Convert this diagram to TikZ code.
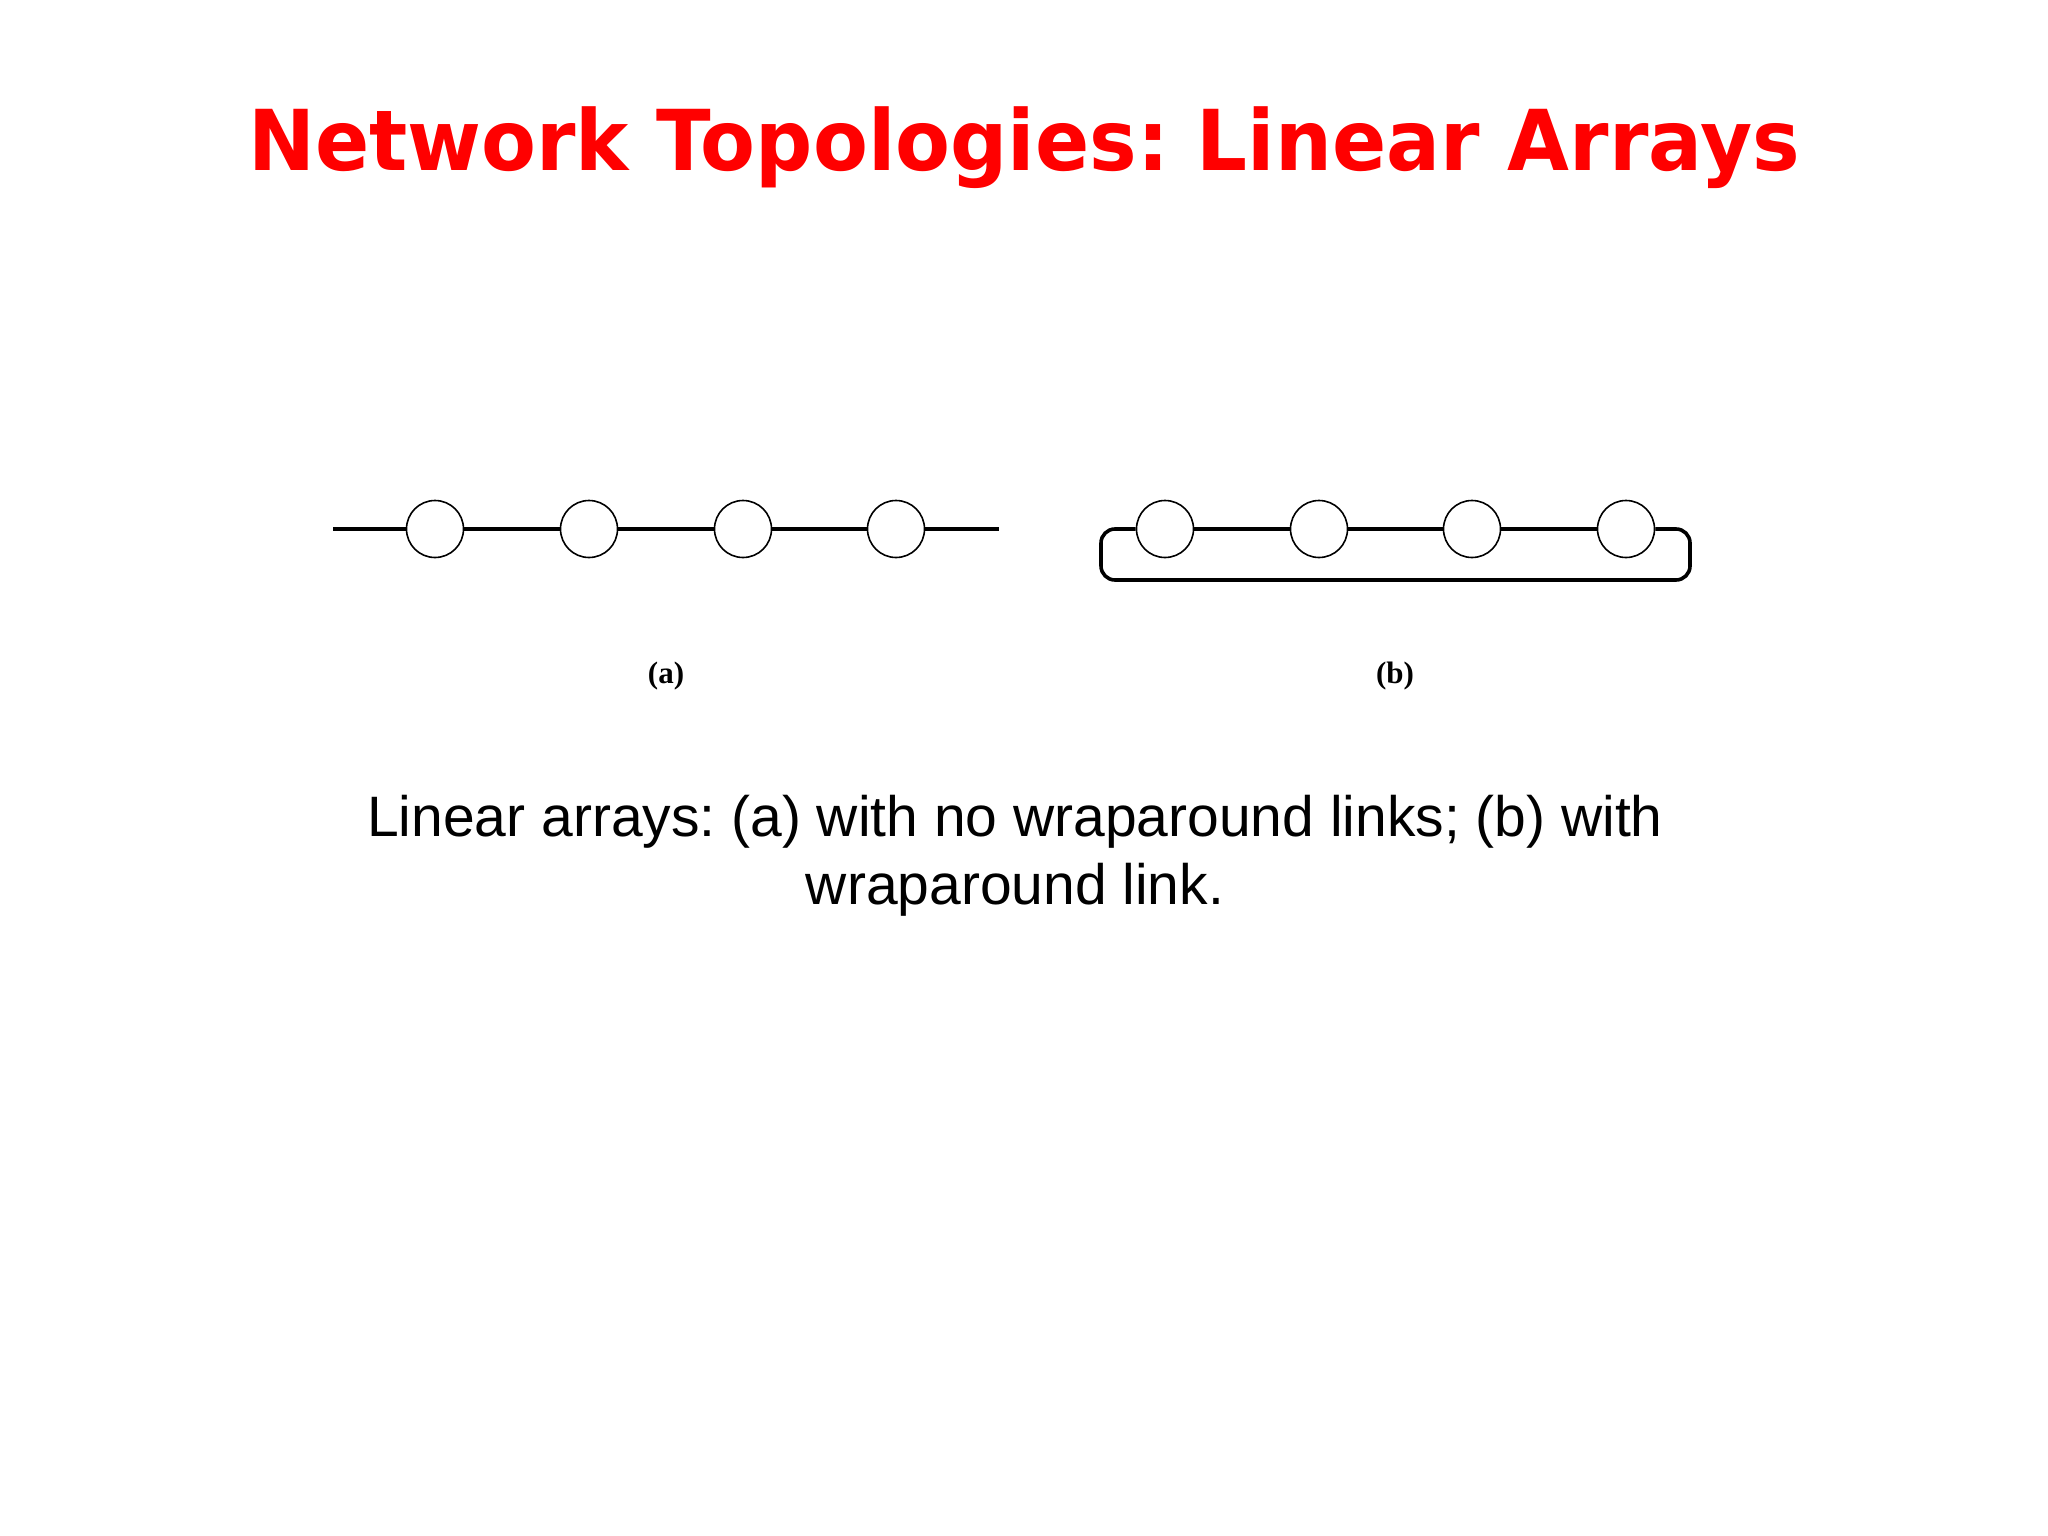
\documentclass[tikz,border=0pt]{standalone}
\usepackage{fontspec}
\setmainfont{Liberation Sans}
\newfontfamily\titlefont{DejaVu Sans}
\newfontfamily\capfont{Liberation Serif}
\usetikzlibrary{calc}
\definecolor{titlered}{RGB}{255,0,0}
\frenchspacing
\begin{document}
\begin{tikzpicture}[x=1pt,y=-1pt,
  vtx/.style={circle,draw=black,line width=1.6pt,fill=white,minimum size=57pt,inner sep=0pt},
  link/.style={draw=black,line width=3.2pt},
  wrap/.style={draw=black,line width=3.6pt,rounded corners=14pt},
  sublabel/.style={font=\capfont\bfseries\fontsize{31}{36}\selectfont,anchor=base},
]
\useasboundingbox[fill=white] (0,0) rectangle (2048,1536);
% title
\node[anchor=base,text=titlered,font=\titlefont\bfseries\fontsize{80}{96}\selectfont,inner sep=0pt,yscale=1.05] (title) at (1024,170) {Network Topologies: Linear Arrays};
% (a)
\coordinate (aL) at (333,529);
\coordinate (aR) at (999,529);
\node[vtx] (a1) at (435,529) {};
\node[vtx] (a2) at (589,529) {};
\node[vtx] (a3) at (743,529) {};
\node[vtx] (a4) at (896,529) {};
\draw[link] (aL) -- (a1);
\draw[link] (a1) -- (a2);
\draw[link] (a2) -- (a3);
\draw[link] (a3) -- (a4);
\draw[link] (a4) -- (aR);
% (b)
\node[vtx] (b1) at (1165,529) {};
\node[vtx] (b2) at (1319,529) {};
\node[vtx] (b3) at (1472,529) {};
\node[vtx] (b4) at (1626,529) {};
\draw[link] (b1) -- (b2);
\draw[link] (b2) -- (b3);
\draw[link] (b3) -- (b4);
\coordinate (wTR) at (1690,529);
\coordinate (wBR) at (1690,580);
\coordinate (wBL) at (1101,580);
\coordinate (wTL) at (1101,529);
\draw[wrap] (b4.east) -- (wTR) -- (wBR) -- (wBL) -- (wTL) -- (b1.west);
% sub-captions
\node[sublabel] (capa) at (666,683) {(a)};
\node[sublabel] (capb) at (1395,683) {(b)};
% caption
\node[anchor=base,font=\fontsize{57}{68}\selectfont,inner sep=0pt] (l1) at (1015,836) {Linear arrays: (a) with no wraparound links; (b) with};
\node[anchor=base,font=\fontsize{57}{68}\selectfont,inner sep=0pt] (l2) at (1015,904) {wraparound link.};
\end{tikzpicture}
\end{document}
